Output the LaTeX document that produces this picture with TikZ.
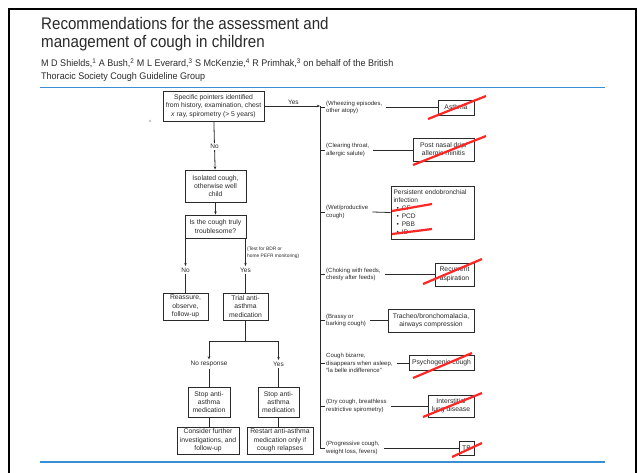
\documentclass[tikz,border=0pt]{standalone}
\usepackage{fontspec}
\setmainfont{Liberation Sans}
\newfontfamily\titlefont[FakeStretch=0.9]{Liberation Sans}
\newfontfamily\authfont[FakeStretch=0.94]{Liberation Sans}
\usetikzlibrary{arrows.meta}
\definecolor{bline}{HTML}{3A8FD4}
\definecolor{strikec}{HTML}{FF2626}
\definecolor{ink}{HTML}{2A2A2A}
\begin{document}
\begin{tikzpicture}[x=1pt,y=-1pt,
  box/.style={draw=ink, line width=0.9pt, align=center, inner sep=0pt, text=ink,
    font=\fontsize{6.8}{8.3}\selectfont},
  side/.style={anchor=west, align=left, inner sep=0pt, text=ink,
    font=\fontsize{6}{7.3}\selectfont},
  conn/.style={draw=ink, line width=0.8pt},
  arr/.style={conn, -{Stealth[length=3.2pt,width=2.6pt]}},
  lbl/.style={font=\fontsize{6.5}{7}\selectfont, text=ink, inner sep=1.5pt, fill=white},
  xout/.style={draw=strikec, line width=2.2pt},
  blueline/.style={draw=bline, line width=1.5pt}
]
\useasboundingbox (0,0) rectangle (638,472);
\fill[white] (0,0) rectangle (638,472);
% frame
\draw[line width=2pt, black] (9,480) -- (9,9) -- (636,9) -- (636,480);
% header
\node[anchor=base west, inner sep=0pt, text=ink, font=\titlefont\fontsize{16.8}{18}\selectfont] (t1) at (41,29.3) {Recommendations for the assessment and};
\node[anchor=base west, inner sep=0pt, text=ink, font=\titlefont\fontsize{16.8}{18}\selectfont] (t2) at (41,47.3) {management of cough in children};
\node[anchor=base west, inner sep=0pt, text=ink, font=\authfont\fontsize{9.6}{11}\selectfont] (a1) at (41,66.7) {M D Shields,\textsuperscript{1} A Bush,\textsuperscript{2} M L Everard,\textsuperscript{3} S McKenzie,\textsuperscript{4} R Primhak,\textsuperscript{3} on behalf of the British};
\node[anchor=base west, inner sep=0pt, text=ink, font=\authfont\fontsize{9.6}{11}\selectfont] (a2) at (41,79.3) {Thoracic Society Cough Guideline Group};
\draw[blueline] (40,87.5) -- (605,87.5);
\draw[blueline] (40,462) -- (605,462);
\node[inner sep=0pt, text=ink!70, font=\fontsize{4}{4}\selectfont] (dot) at (150,121) {s};

% left tree
\node[box, minimum width=101pt, minimum height=30pt] (b1) at (213.5,106) {Specific pointers identified\\from history, examination, chest\\\textit{x} ray, spirometry (> 5 years)};
\node[box, minimum width=61pt, minimum height=32pt] (b2) at (215.5,186) {Isolated cough,\\otherwise well\\child};
\node[box, minimum width=61pt, minimum height=23pt] (b3) at (215.5,226.5) {Is the cough truly\\troublesome?};
\node[box, minimum width=45pt, minimum height=27pt] (b4) at (185.5,306.5) {Reassure,\\observe,\\follow-up};
\node[box, minimum width=45pt, minimum height=27pt] (b5) at (245.5,306.5) {Trial anti-\\asthma\\medication};
\node[box, minimum width=42pt, minimum height=30pt] (b6) at (209,402) {Stop anti-\\asthma\\medication};
\node[box, minimum width=41pt, minimum height=30pt] (b7) at (278.5,402) {Stop anti-\\asthma\\medication};
\node[box, minimum width=62pt, minimum height=27pt] (b8) at (208,440.5) {Consider further\\investigations, and\\follow-up};
\node[box, minimum width=66pt, minimum height=27pt] (b9) at (280,440.5) {Restart anti-asthma\\medication only if\\cough relapses};

\node[anchor=north west, align=left, inner sep=0pt, text=ink, font=\fontsize{4.85}{6.6}\selectfont] (test) at (247,247) {(Test for BDR or\\home PEFR monitoring)};

\draw[arr] (b1) -- node[lbl, pos=0.52] (no1) {No} (b2);
\draw[arr] (b2) -- (b3);
\node[lbl] (no2) at (185.5,270) {No};
\node[lbl] (yes2) at (245.5,270) {Yes};
\draw[arr] (b4.north |- b3.south) -- (no2);
\draw[conn] (no2) -- (b4);
\draw[arr] (b5.north |- b3.south) -- (yes2);
\draw[conn] (yes2) -- (b5);
\coordinate (split) at (245.5,341);
\draw[conn] (b5) -- (split);
\draw[conn] (b6.north |- split) -- (b7.north |- split);
\node[lbl] (nr) at (209,364) {No response};
\node[lbl] (yes3) at (278.5,364) {Yes};
\draw[arr] (b6.north |- split) -- (nr);
\draw[conn] (nr) -- (b6);
\draw[arr] (b7.north |- split) -- (yes3);
\draw[conn] (yes3) -- (b7);
\draw[conn] (b6.south) -- (b6.south |- b8.north);
\draw[conn] (b7.south) -- (b7.south |- b9.north);

% trunk
\coordinate (ttop) at (320,106);
\coordinate (tbot) at (320,448);
\draw[arr] (b1.east) -- node[above, inner sep=1.5pt, text=ink, font=\fontsize{6.5}{7}\selectfont, pos=0.52] (yes1) {Yes} (ttop);
\draw[conn] (ttop) -- (tbot);

% side labels
\node[side] (s1) at (326,107.5) {(Wheezing episodes,\\other atopy)};
\node[side] (s2) at (326,150) {(Clearing throat,\\allergic salute)};
\node[side] (s3) at (326,212) {(Wet/productive\\cough)};
\node[side] (s4) at (326,274.5) {(Choking with feeds,\\chesty after feeds)};
\node[side] (s5) at (326,320.5) {(Brassy or\\barking cough)};
\node[side] (s6) at (326,363) {Cough bizarre,\\disappears when asleep,\\``la belle indifference''};
\node[side] (s7) at (326,406) {(Dry cough, breathless\\restrictive spirometry)};
\node[side] (s8) at (326,448) {(Progressive cough,\\weight loss, fevers)};

% right boxes
\node[box, minimum width=36pt, minimum height=15pt] (r1) at (456,107.5) {Asthma};
\node[box, minimum width=61pt, minimum height=23pt] (r2) at (443.5,150) {Post nasal drip/\\allergic rhinitis};
\node[box, minimum width=83pt, minimum height=53pt, align=left, text width=78pt, inner xsep=2.5pt, font=\fontsize{6.6}{8}\selectfont] (r3) at (432.5,212.5) {Persistent endobronchial\\infection\\\hspace*{3pt}\textbullet\hspace{3pt}CF\\\hspace*{3pt}\textbullet\hspace{3pt}PCD\\\hspace*{3pt}\textbullet\hspace{3pt}PBB\\\hspace*{3pt}\textbullet\hspace{3pt}ID};
\node[box, minimum width=39pt, minimum height=23pt] (r4) at (454.5,274.5) {Recurrent\\aspiration};
\node[box, minimum width=86pt, minimum height=23pt] (r5) at (431,320.5) {Tracheo/bronchomalacia,\\airways compression};
\node[box, minimum width=65pt, minimum height=15pt] (r6) at (441.5,363) {Psychogenic cough};
\node[box, minimum width=46pt, minimum height=22pt] (r7) at (451,406) {Interstitial\\lung disease};
\node[box, minimum width=15pt, minimum height=14pt] (r8) at (466.5,448) {TB};

\foreach \i in {1,...,8}{
  \draw[conn] (s\i.west -| ttop) -- ([xshift=-1pt]s\i.west);
  \draw[conn] ([xshift=4pt]s\i.east) -- (r\i.west);
}

% strike-outs
\draw[xout] (428,119) -- (486,96);
\draw[xout] (413,165) -- (486,136);
\draw[xout] (392,211) -- (432,204);
\draw[xout] (392,234) -- (432,229);
\draw[xout] (423,284) -- (482,259);
\draw[xout] (413,378) -- (472,353);
\draw[xout] (423,417) -- (482,393);
\draw[xout] (452,457) -- (482,443);
\end{tikzpicture}
\end{document}
